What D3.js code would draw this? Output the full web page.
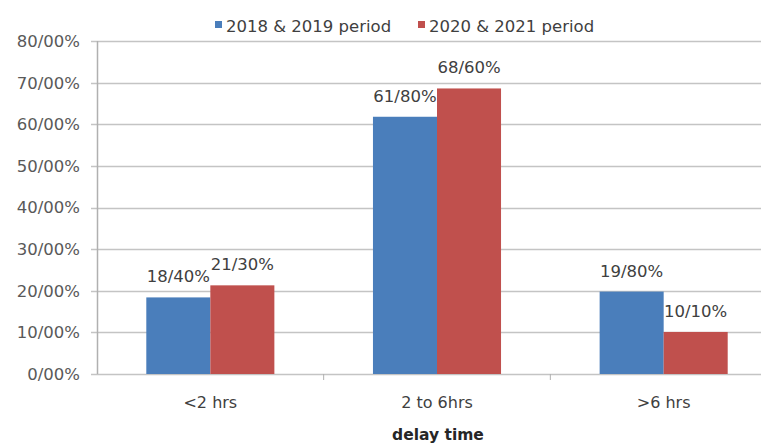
<!DOCTYPE html>
<html>
<head>
<meta charset="utf-8">
<script src="https://cdn.jsdelivr.net/npm/d3@7/dist/d3.min.js"></script>
<style>
  html, body { margin: 0; padding: 0; background: #fff; }
  svg { display: block; }
  text { font-family: "DejaVu Sans", sans-serif; }
</style>
</head>
<body>
<svg id="chart" width="761" height="443"></svg>
<script>
const categories = ["<2 hrs", "2 to 6hrs", ">6 hrs"];
const seriesNames = ["2018 & 2019 period", "2020 & 2021 period"];
const series2018_2019 = [18.4, 61.8, 19.8];
const series2020_2021 = [21.3, 68.6, 10.1];
const yTicks = [0, 10, 20, 30, 40, 50, 60, 70, 80];
const xTitle = "delay time";
const colors = ["#4a7ebb", "#c0504d"];

const W = 761, H = 443;
const margin = { left: 97, right: -16, top: 41, bottom: 69 };
const svg = d3.select("#chart");

const fmt = v => d3.format(".2f")(v).replace(".", "/") + "%";

const y = d3.scaleLinear().domain([0, 80]).range([H - margin.bottom, margin.top]);
const x0 = d3.scaleBand().domain(categories).range([margin.left, W - margin.right]).padding(0);
const groupW = x0.bandwidth() * 0.565;
const x1 = d3.scaleBand().domain(seriesNames).range([0, groupW]).padding(0);

const allSeries = [series2018_2019, series2020_2021];

// gridlines
svg.append("g").selectAll("line").data(yTicks).join("line")
  .attr("x1", margin.left - 6).attr("x2", W)
  .attr("y1", d => Math.round(y(d)) + 0.5).attr("y2", d => Math.round(y(d)) + 0.5)
  .attr("stroke", "#c4c4c4").attr("stroke-width", 1.5);

// y axis line
svg.append("line")
  .attr("x1", margin.left + 0.5).attr("x2", margin.left + 0.5)
  .attr("y1", y(80)).attr("y2", y(0))
  .attr("stroke", "#b0b0b0").attr("stroke-width", 1.5);

// y tick labels
svg.append("g").selectAll("text").data(yTicks).join("text")
  .attr("x", margin.left - 17).attr("y", d => y(d))
  .attr("dy", "0.36em").attr("text-anchor", "end")
  .attr("font-size", "16.5px").attr("fill", "#595959")
  .text(d => d3.format(".2f")(d).replace(".", "/") + "%");

// x axis tick marks at category boundaries
svg.append("g").selectAll("line").data(categories.slice(1)).join("line")
  .attr("x1", d => x0(d)).attr("x2", d => x0(d))
  .attr("y1", y(0)).attr("y2", y(0) + 6)
  .attr("stroke", "#b0b0b0").attr("stroke-width", 1);

// bars
const groups = svg.append("g").selectAll("g").data(categories).join("g")
  .attr("transform", c => `translate(${x0(c) + (x0.bandwidth() - groupW) / 2},0)`);

groups.selectAll("rect")
  .data((c, i) => allSeries.map((s, k) => ({ name: seriesNames[k], v: s[i], k })))
  .join("rect")
  .attr("x", d => x1(d.name)).attr("width", x1.bandwidth())
  .attr("y", d => y(d.v)).attr("height", d => y(0) - y(d.v))
  .attr("fill", d => colors[d.k]);

groups.selectAll("text.val")
  .data((c, i) => allSeries.map((s, k) => ({ name: seriesNames[k], v: s[i], k })))
  .join("text").attr("class", "val")
  .attr("x", d => x1(d.name) + x1.bandwidth() / 2)
  .attr("y", d => y(d.v) - 15)
  .attr("text-anchor", "middle")
  .attr("font-size", "16.5px").attr("fill", "#404040")
  .text(d => fmt(d.v));

// category labels
svg.append("g").selectAll("text").data(categories).join("text")
  .attr("x", c => x0(c) + x0.bandwidth() / 2).attr("y", 408)
  .attr("text-anchor", "middle").attr("font-size", "16px").attr("fill", "#404040")
  .text(c => c);

// x title
svg.append("text")
  .attr("x", (margin.left + W - margin.right) / 2 + 1).attr("y", 440)
  .attr("text-anchor", "middle").attr("font-size", "15.5px").attr("font-weight", "bold")
  .attr("fill", "#262626").text(xTitle);

// legend
const legendX = [215, 418];
const leg = svg.append("g").selectAll("g").data(seriesNames).join("g")
  .attr("transform", (d, i) => `translate(${legendX[i]},0)`);
leg.append("rect").attr("x", 0).attr("y", 21).attr("width", 7).attr("height", 7)
  .attr("fill", (d, i) => colors[i]);
leg.append("text").attr("x", 11).attr("y", 32)
  .attr("font-size", "16.5px").attr("fill", "#404040").text(d => d);
</script>
</body>
</html>
